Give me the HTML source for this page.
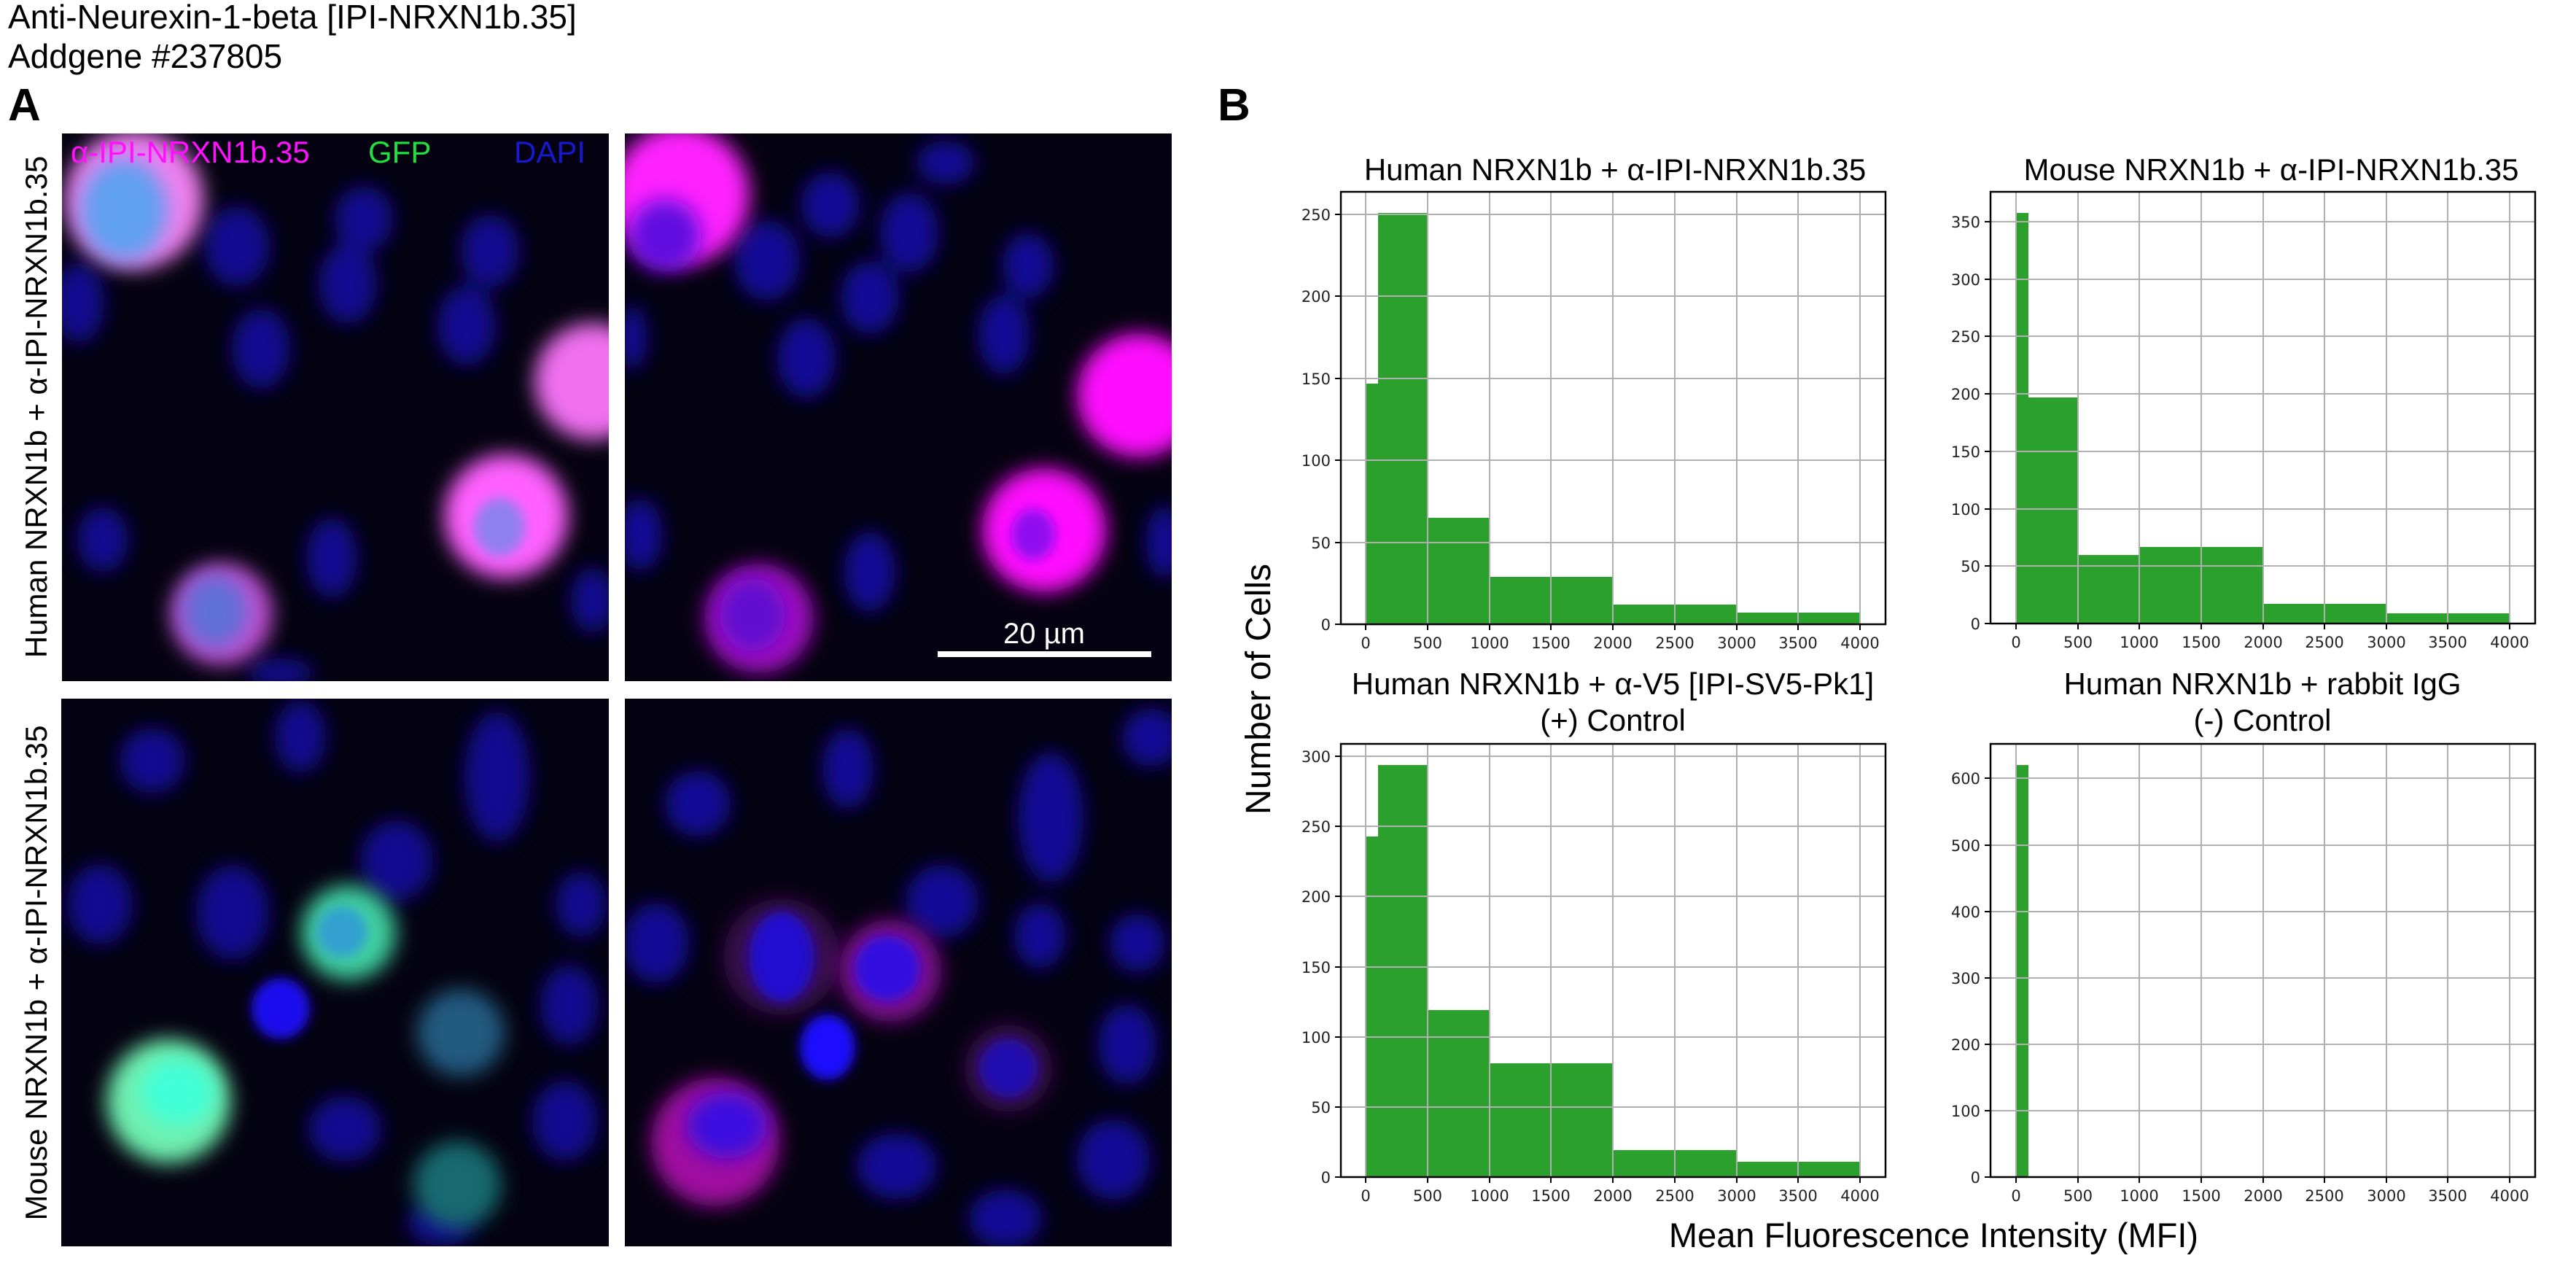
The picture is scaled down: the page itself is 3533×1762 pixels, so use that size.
<!DOCTYPE html>
<html><head><meta charset="utf-8"><style>
html,body{margin:0;padding:0;background:#fff;}
svg{display:block}
.t{font-family:"Liberation Sans",sans-serif;}
.tk{font-family:"DejaVu Sans",sans-serif;font-size:21px;fill:#222;}
.g{stroke:#b0b0b0;stroke-width:2;}
.bar{fill:#2ca02c;}
</style></head><body>
<svg width="3533" height="1762" viewBox="0 0 3533 1762" xmlns="http://www.w3.org/2000/svg">
<defs>
<filter id="b1" x="-50%" y="-50%" width="200%" height="200%"><feGaussianBlur stdDeviation="14"/></filter>
<filter id="b2" x="-50%" y="-50%" width="200%" height="200%"><feGaussianBlur stdDeviation="8"/></filter>
<clipPath id="c1"><rect x="85" y="183" width="750" height="751"/></clipPath>
<clipPath id="c2"><rect x="857" y="183" width="750" height="751"/></clipPath>
<clipPath id="c3"><rect x="84" y="958" width="751" height="751"/></clipPath>
<clipPath id="c4"><rect x="857" y="958" width="750" height="751"/></clipPath>
</defs>

<text class="t" x="11" y="39" font-size="46">Anti-Neurexin-1-beta [IPI-NRXN1b.35]</text>
<text class="t" x="11" y="93" font-size="46">Addgene #237805</text>
<text class="t" x="11" y="165" font-size="62" font-weight="bold">A</text>
<text class="t" x="1670" y="165" font-size="62" font-weight="bold">B</text>

<text class="t" font-size="42" text-anchor="middle" transform="translate(64,558) rotate(-90)">Human NRXN1b + α-IPI-NRXN1b.35</text>
<text class="t" font-size="42" text-anchor="middle" transform="translate(64,1334) rotate(-90)">Mouse NRXN1b + α-IPI-NRXN1b.35</text>

<!-- Panel TL -->
<rect x="85" y="183" width="750" height="751" fill="#040210"/>
<g clip-path="url(#c1)">
<g transform="translate(85,183)" filter="url(#b1)" fill="#1410a8" opacity="0.85">
<ellipse cx="240" cy="155" rx="45" ry="55"/><ellipse cx="392" cy="206" rx="40" ry="55"/>
<ellipse cx="587" cy="161" rx="40" ry="50"/><ellipse cx="273" cy="295" rx="40" ry="55"/>
<ellipse cx="555" cy="263" rx="40" ry="55"/><ellipse cx="23" cy="232" rx="35" ry="55"/>
<ellipse cx="414" cy="117" rx="40" ry="45"/><ellipse cx="56" cy="557" rx="35" ry="45"/>
<ellipse cx="370" cy="582" rx="35" ry="55"/><ellipse cx="728" cy="640" rx="30" ry="45"/>
<ellipse cx="300" cy="740" rx="45" ry="20"/>
</g>
<g transform="translate(85,183)">
<circle cx="99" cy="91" r="95" fill="#f080f0" filter="url(#b1)"/>
<ellipse cx="85" cy="105" rx="60" ry="70" fill="#60a0f0" filter="url(#b1)"/>
<circle cx="728" cy="340" r="80" fill="#f070f0" filter="url(#b1)"/>
<circle cx="609" cy="525" r="85" fill="#ff60ff" filter="url(#b1)"/>
<ellipse cx="600" cy="540" rx="35" ry="40" fill="#9080f0" filter="url(#b2)"/>
<circle cx="219" cy="659" r="70" fill="#c050d0" filter="url(#b1)"/>
<ellipse cx="210" cy="655" rx="45" ry="50" fill="#6070d8" filter="url(#b1)"/>
</g>
</g>
<text class="t" x="97" y="223" font-size="42" fill="#ff10ff">α-IPI-NRXN1b.35</text>
<text class="t" x="505" y="223" font-size="42" fill="#20e040">GFP</text>
<text class="t" x="705" y="223" font-size="42" fill="#1818d0">DAPI</text>

<!-- Panel TR -->
<rect x="857" y="183" width="750" height="751" fill="#040210"/>
<g clip-path="url(#c2)">
<g transform="translate(857,183)" filter="url(#b1)" fill="#1410b0" opacity="0.85">
<ellipse cx="195" cy="174" rx="45" ry="55"/><ellipse cx="282" cy="98" rx="40" ry="45"/>
<ellipse cx="390" cy="136" rx="40" ry="55"/><ellipse cx="336" cy="225" rx="40" ry="50"/>
<ellipse cx="553" cy="181" rx="35" ry="45"/><ellipse cx="249" cy="308" rx="40" ry="55"/>
<ellipse cx="520" cy="276" rx="35" ry="55"/><ellipse cx="336" cy="601" rx="35" ry="55"/>
<ellipse cx="21" cy="550" rx="30" ry="50"/><ellipse cx="440" cy="40" rx="40" ry="30"/>
<ellipse cx="740" cy="560" rx="25" ry="50"/><ellipse cx="10" cy="280" rx="20" ry="45"/>
</g>
<g transform="translate(857,183)">
<circle cx="76" cy="85" r="95" fill="#ff20ff" filter="url(#b1)"/>
<ellipse cx="55" cy="140" rx="50" ry="50" fill="#6010e0" filter="url(#b1)"/>
<circle cx="705" cy="359" r="85" fill="#ff10ff" filter="url(#b1)"/>
<circle cx="575" cy="544" r="85" fill="#ff10ff" filter="url(#b1)"/>
<ellipse cx="560" cy="550" rx="30" ry="35" fill="#9010f0" filter="url(#b2)"/>
<circle cx="184" cy="665" r="75" fill="#a010c0" filter="url(#b1)"/>
<ellipse cx="175" cy="660" rx="45" ry="50" fill="#6010d0" filter="url(#b1)"/>
</g>
</g>
<rect x="1286" y="893" width="293" height="8" fill="#fff"/>
<text class="t" x="1432" y="882" font-size="40" fill="#fff" text-anchor="middle">20 µm</text>

<!-- Panel BL -->
<rect x="84" y="958" width="751" height="751" fill="#040210"/>
<g clip-path="url(#c3)">
<g transform="translate(84,958)" filter="url(#b1)" fill="#1410b0" opacity="0.8">
<ellipse cx="125" cy="85" rx="45" ry="45"/><ellipse cx="328" cy="52" rx="35" ry="50"/>
<ellipse cx="598" cy="107" rx="45" ry="90"/><ellipse cx="53" cy="282" rx="45" ry="55"/>
<ellipse cx="235" cy="293" rx="50" ry="65"/><ellipse cx="460" cy="222" rx="50" ry="55"/>
<ellipse cx="713" cy="282" rx="35" ry="45"/><ellipse cx="697" cy="420" rx="40" ry="55"/>
<ellipse cx="389" cy="590" rx="50" ry="45"/><ellipse cx="691" cy="579" rx="45" ry="55"/>
<ellipse cx="520" cy="720" rx="45" ry="30"/>
</g>
<g transform="translate(84,958)">
<ellipse cx="301" cy="425" rx="40" ry="42" fill="#1a10f0" filter="url(#b2)"/>
<circle cx="394" cy="321" r="65" fill="#40d0a0" filter="url(#b1)"/>
<ellipse cx="385" cy="320" rx="35" ry="35" fill="#30a0d0" filter="url(#b2)"/>
<circle cx="548" cy="458" r="60" fill="#205a80" filter="url(#b1)"/>
<circle cx="147" cy="552" r="85" fill="#70f0b0" filter="url(#b1)"/>
<ellipse cx="160" cy="540" rx="50" ry="45" fill="#40ffd8" filter="url(#b1)"/>
<circle cx="543" cy="667" r="60" fill="#186a70" filter="url(#b1)"/>
</g>
</g>

<!-- Panel BR -->
<rect x="857" y="958" width="750" height="751" fill="#040210"/>
<g clip-path="url(#c4)">
<g transform="translate(857,958)" filter="url(#b1)" fill="#1410b0" opacity="0.85">
<ellipse cx="100" cy="144" rx="45" ry="45"/><ellipse cx="306" cy="96" rx="35" ry="55"/>
<ellipse cx="584" cy="163" rx="45" ry="90"/><ellipse cx="722" cy="53" rx="40" ry="40"/>
<ellipse cx="43" cy="335" rx="45" ry="55"/><ellipse cx="435" cy="278" rx="50" ry="50"/>
<ellipse cx="569" cy="325" rx="35" ry="45"/><ellipse cx="703" cy="335" rx="38" ry="40"/>
<ellipse cx="689" cy="474" rx="40" ry="55"/><ellipse cx="373" cy="641" rx="55" ry="45"/>
<ellipse cx="670" cy="632" rx="50" ry="55"/><ellipse cx="522" cy="713" rx="50" ry="40"/>
</g>
<g transform="translate(857,958)">
<circle cx="215" cy="354" r="80" fill="#3a0850" filter="url(#b1)"/>
<ellipse cx="215" cy="354" rx="45" ry="62" fill="#2010d0" filter="url(#b2)"/>
<circle cx="364" cy="373" r="70" fill="#801090" filter="url(#b1)"/>
<ellipse cx="360" cy="370" rx="45" ry="45" fill="#3010e0" filter="url(#b2)"/>
<ellipse cx="278" cy="478" rx="38" ry="45" fill="#1a10ff" filter="url(#b2)"/>
<circle cx="526" cy="507" r="60" fill="#3a0850" filter="url(#b1)"/>
<ellipse cx="526" cy="507" rx="40" ry="40" fill="#2010b0" filter="url(#b2)"/>
<circle cx="124" cy="608" r="88" fill="#a010a0" filter="url(#b1)"/>
<ellipse cx="140" cy="585" rx="55" ry="45" fill="#3a10e0" filter="url(#b1)"/>
</g>
</g>

<!-- TL chart -->
<g>
<rect x="1873" y="526" width="17" height="330" class="bar"/>
<rect x="1890" y="292" width="68" height="564" class="bar"/>
<rect x="1958" y="710" width="85" height="146" class="bar"/>
<rect x="2043" y="791" width="169" height="65" class="bar"/>
<rect x="2212" y="829" width="170" height="27" class="bar"/>
<rect x="2382" y="840" width="169" height="16" class="bar"/>
<g class="g">
<line x1="1873" y1="263" x2="1873" y2="856"/><line x1="1958" y1="263" x2="1958" y2="856"/><line x1="2043" y1="263" x2="2043" y2="856"/><line x1="2127" y1="263" x2="2127" y2="856"/><line x1="2212" y1="263" x2="2212" y2="856"/><line x1="2297" y1="263" x2="2297" y2="856"/><line x1="2382" y1="263" x2="2382" y2="856"/><line x1="2466" y1="263" x2="2466" y2="856"/><line x1="2551" y1="263" x2="2551" y2="856"/>
<line x1="1839" y1="744" x2="2586" y2="744"/><line x1="1839" y1="631" x2="2586" y2="631"/><line x1="1839" y1="519" x2="2586" y2="519"/><line x1="1839" y1="406" x2="2586" y2="406"/><line x1="1839" y1="294" x2="2586" y2="294"/>
</g>
<rect x="1839" y="263" width="747" height="593" fill="none" stroke="#000" stroke-width="2.5"/>
<g stroke="#000" stroke-width="2">
<line x1="1873" y1="856" x2="1873" y2="864"/><line x1="1958" y1="856" x2="1958" y2="864"/><line x1="2043" y1="856" x2="2043" y2="864"/><line x1="2127" y1="856" x2="2127" y2="864"/><line x1="2212" y1="856" x2="2212" y2="864"/><line x1="2297" y1="856" x2="2297" y2="864"/><line x1="2382" y1="856" x2="2382" y2="864"/><line x1="2466" y1="856" x2="2466" y2="864"/><line x1="2551" y1="856" x2="2551" y2="864"/>
<line x1="1831" y1="856" x2="1839" y2="856"/><line x1="1831" y1="744" x2="1839" y2="744"/><line x1="1831" y1="631" x2="1839" y2="631"/><line x1="1831" y1="519" x2="1839" y2="519"/><line x1="1831" y1="406" x2="1839" y2="406"/><line x1="1831" y1="294" x2="1839" y2="294"/>
</g>
<g class="tk" text-anchor="middle">
<text x="1873" y="889">0</text><text x="1958" y="889">500</text><text x="2043" y="889">1000</text><text x="2127" y="889">1500</text><text x="2212" y="889">2000</text><text x="2297" y="889">2500</text><text x="2382" y="889">3000</text><text x="2466" y="889">3500</text><text x="2551" y="889">4000</text>
</g>
<g class="tk" text-anchor="end">
<text x="1825" y="864">0</text><text x="1825" y="752">50</text><text x="1825" y="639">100</text><text x="1825" y="527">150</text><text x="1825" y="414">200</text><text x="1825" y="302">250</text>
</g>
<text class="t" x="2215" y="247" font-size="42" text-anchor="middle">Human NRXN1b + α-IPI-NRXN1b.35</text>
</g>

<!-- TR chart -->
<g>
<rect x="2765" y="292" width="17" height="563" class="bar"/>
<rect x="2782" y="545" width="68" height="310" class="bar"/>
<rect x="2850" y="761" width="84" height="94" class="bar"/>
<rect x="2934" y="750" width="170" height="105" class="bar"/>
<rect x="3104" y="828" width="169" height="27" class="bar"/>
<rect x="3273" y="841" width="169" height="14" class="bar"/>
<g class="g">
<line x1="2765" y1="263" x2="2765" y2="855"/><line x1="2850" y1="263" x2="2850" y2="855"/><line x1="2934" y1="263" x2="2934" y2="855"/><line x1="3019" y1="263" x2="3019" y2="855"/><line x1="3104" y1="263" x2="3104" y2="855"/><line x1="3188" y1="263" x2="3188" y2="855"/><line x1="3273" y1="263" x2="3273" y2="855"/><line x1="3357" y1="263" x2="3357" y2="855"/><line x1="3442" y1="263" x2="3442" y2="855"/>
<line x1="2730" y1="776" x2="3477" y2="776"/><line x1="2730" y1="698" x2="3477" y2="698"/><line x1="2730" y1="619" x2="3477" y2="619"/><line x1="2730" y1="540" x2="3477" y2="540"/><line x1="2730" y1="461" x2="3477" y2="461"/><line x1="2730" y1="383" x2="3477" y2="383"/><line x1="2730" y1="304" x2="3477" y2="304"/>
</g>
<rect x="2730" y="263" width="747" height="592" fill="none" stroke="#000" stroke-width="2.5"/>
<g stroke="#000" stroke-width="2">
<line x1="2765" y1="855" x2="2765" y2="863"/><line x1="2850" y1="855" x2="2850" y2="863"/><line x1="2934" y1="855" x2="2934" y2="863"/><line x1="3019" y1="855" x2="3019" y2="863"/><line x1="3104" y1="855" x2="3104" y2="863"/><line x1="3188" y1="855" x2="3188" y2="863"/><line x1="3273" y1="855" x2="3273" y2="863"/><line x1="3357" y1="855" x2="3357" y2="863"/><line x1="3442" y1="855" x2="3442" y2="863"/>
<line x1="2722" y1="855" x2="2730" y2="855"/><line x1="2722" y1="776" x2="2730" y2="776"/><line x1="2722" y1="698" x2="2730" y2="698"/><line x1="2722" y1="619" x2="2730" y2="619"/><line x1="2722" y1="540" x2="2730" y2="540"/><line x1="2722" y1="461" x2="2730" y2="461"/><line x1="2722" y1="383" x2="2730" y2="383"/><line x1="2722" y1="304" x2="2730" y2="304"/>
</g>
<g class="tk" text-anchor="middle">
<text x="2765" y="888">0</text><text x="2850" y="888">500</text><text x="2934" y="888">1000</text><text x="3019" y="888">1500</text><text x="3104" y="888">2000</text><text x="3188" y="888">2500</text><text x="3273" y="888">3000</text><text x="3357" y="888">3500</text><text x="3442" y="888">4000</text>
</g>
<g class="tk" text-anchor="end">
<text x="2716" y="863">0</text><text x="2716" y="784">50</text><text x="2716" y="706">100</text><text x="2716" y="627">150</text><text x="2716" y="548">200</text><text x="2716" y="469">250</text><text x="2716" y="391">300</text><text x="2716" y="312">350</text>
</g>
<text class="t" x="3115" y="247" font-size="42" text-anchor="middle">Mouse NRXN1b + α-IPI-NRXN1b.35</text>
</g>

<!-- BL chart -->
<g>
<rect x="1873" y="1147" width="17" height="467" class="bar"/>
<rect x="1890" y="1049" width="68" height="565" class="bar"/>
<rect x="1958" y="1385" width="85" height="229" class="bar"/>
<rect x="2043" y="1458" width="169" height="156" class="bar"/>
<rect x="2212" y="1577" width="170" height="37" class="bar"/>
<rect x="2382" y="1593" width="169" height="21" class="bar"/>
<g class="g">
<line x1="1873" y1="1020" x2="1873" y2="1614"/><line x1="1958" y1="1020" x2="1958" y2="1614"/><line x1="2043" y1="1020" x2="2043" y2="1614"/><line x1="2127" y1="1020" x2="2127" y2="1614"/><line x1="2212" y1="1020" x2="2212" y2="1614"/><line x1="2297" y1="1020" x2="2297" y2="1614"/><line x1="2382" y1="1020" x2="2382" y2="1614"/><line x1="2466" y1="1020" x2="2466" y2="1614"/><line x1="2551" y1="1020" x2="2551" y2="1614"/>
<line x1="1839" y1="1518" x2="2586" y2="1518"/><line x1="1839" y1="1422" x2="2586" y2="1422"/><line x1="1839" y1="1326" x2="2586" y2="1326"/><line x1="1839" y1="1229" x2="2586" y2="1229"/><line x1="1839" y1="1133" x2="2586" y2="1133"/><line x1="1839" y1="1037" x2="2586" y2="1037"/>
</g>
<rect x="1839" y="1020" width="747" height="594" fill="none" stroke="#000" stroke-width="2.5"/>
<g stroke="#000" stroke-width="2">
<line x1="1873" y1="1614" x2="1873" y2="1622"/><line x1="1958" y1="1614" x2="1958" y2="1622"/><line x1="2043" y1="1614" x2="2043" y2="1622"/><line x1="2127" y1="1614" x2="2127" y2="1622"/><line x1="2212" y1="1614" x2="2212" y2="1622"/><line x1="2297" y1="1614" x2="2297" y2="1622"/><line x1="2382" y1="1614" x2="2382" y2="1622"/><line x1="2466" y1="1614" x2="2466" y2="1622"/><line x1="2551" y1="1614" x2="2551" y2="1622"/>
<line x1="1831" y1="1614" x2="1839" y2="1614"/><line x1="1831" y1="1518" x2="1839" y2="1518"/><line x1="1831" y1="1422" x2="1839" y2="1422"/><line x1="1831" y1="1326" x2="1839" y2="1326"/><line x1="1831" y1="1229" x2="1839" y2="1229"/><line x1="1831" y1="1133" x2="1839" y2="1133"/><line x1="1831" y1="1037" x2="1839" y2="1037"/>
</g>
<g class="tk" text-anchor="middle">
<text x="1873" y="1647">0</text><text x="1958" y="1647">500</text><text x="2043" y="1647">1000</text><text x="2127" y="1647">1500</text><text x="2212" y="1647">2000</text><text x="2297" y="1647">2500</text><text x="2382" y="1647">3000</text><text x="2466" y="1647">3500</text><text x="2551" y="1647">4000</text>
</g>
<g class="tk" text-anchor="end">
<text x="1825" y="1622">0</text><text x="1825" y="1526">50</text><text x="1825" y="1430">100</text><text x="1825" y="1334">150</text><text x="1825" y="1237">200</text><text x="1825" y="1141">250</text><text x="1825" y="1045">300</text>
</g>
<text class="t" x="2212" y="952" font-size="42" text-anchor="middle">Human NRXN1b + α-V5 [IPI-SV5-Pk1]</text>
<text class="t" x="2212" y="1002" font-size="42" text-anchor="middle">(+) Control</text>
</g>

<!-- BR chart -->
<g>
<rect x="2765" y="1049" width="17" height="565" class="bar"/>
<g class="g">
<line x1="2765" y1="1020" x2="2765" y2="1614"/><line x1="2850" y1="1020" x2="2850" y2="1614"/><line x1="2934" y1="1020" x2="2934" y2="1614"/><line x1="3019" y1="1020" x2="3019" y2="1614"/><line x1="3104" y1="1020" x2="3104" y2="1614"/><line x1="3188" y1="1020" x2="3188" y2="1614"/><line x1="3273" y1="1020" x2="3273" y2="1614"/><line x1="3357" y1="1020" x2="3357" y2="1614"/><line x1="3442" y1="1020" x2="3442" y2="1614"/>
<line x1="2730" y1="1523" x2="3477" y2="1523"/><line x1="2730" y1="1432" x2="3477" y2="1432"/><line x1="2730" y1="1341" x2="3477" y2="1341"/><line x1="2730" y1="1250" x2="3477" y2="1250"/><line x1="2730" y1="1159" x2="3477" y2="1159"/><line x1="2730" y1="1067" x2="3477" y2="1067"/>
</g>
<rect x="2730" y="1020" width="747" height="594" fill="none" stroke="#000" stroke-width="2.5"/>
<g stroke="#000" stroke-width="2">
<line x1="2765" y1="1614" x2="2765" y2="1622"/><line x1="2850" y1="1614" x2="2850" y2="1622"/><line x1="2934" y1="1614" x2="2934" y2="1622"/><line x1="3019" y1="1614" x2="3019" y2="1622"/><line x1="3104" y1="1614" x2="3104" y2="1622"/><line x1="3188" y1="1614" x2="3188" y2="1622"/><line x1="3273" y1="1614" x2="3273" y2="1622"/><line x1="3357" y1="1614" x2="3357" y2="1622"/><line x1="3442" y1="1614" x2="3442" y2="1622"/>
<line x1="2722" y1="1614" x2="2730" y2="1614"/><line x1="2722" y1="1523" x2="2730" y2="1523"/><line x1="2722" y1="1432" x2="2730" y2="1432"/><line x1="2722" y1="1341" x2="2730" y2="1341"/><line x1="2722" y1="1250" x2="2730" y2="1250"/><line x1="2722" y1="1159" x2="2730" y2="1159"/><line x1="2722" y1="1067" x2="2730" y2="1067"/>
</g>
<g class="tk" text-anchor="middle">
<text x="2765" y="1647">0</text><text x="2850" y="1647">500</text><text x="2934" y="1647">1000</text><text x="3019" y="1647">1500</text><text x="3104" y="1647">2000</text><text x="3188" y="1647">2500</text><text x="3273" y="1647">3000</text><text x="3357" y="1647">3500</text><text x="3442" y="1647">4000</text>
</g>
<g class="tk" text-anchor="end">
<text x="2716" y="1622">0</text><text x="2716" y="1531">100</text><text x="2716" y="1440">200</text><text x="2716" y="1349">300</text><text x="2716" y="1258">400</text><text x="2716" y="1167">500</text><text x="2716" y="1075">600</text>
</g>
<text class="t" x="3103" y="952" font-size="42" text-anchor="middle">Human NRXN1b + rabbit IgG</text>
<text class="t" x="3103" y="1002" font-size="42" text-anchor="middle">(-) Control</text>
</g>

<text class="t" font-size="48" text-anchor="middle" transform="translate(1742,945) rotate(-90)">Number of Cells</text>
<text class="t" x="2652" y="1710" font-size="47" text-anchor="middle">Mean Fluorescence Intensity (MFI)</text>
</svg>
</body></html>
